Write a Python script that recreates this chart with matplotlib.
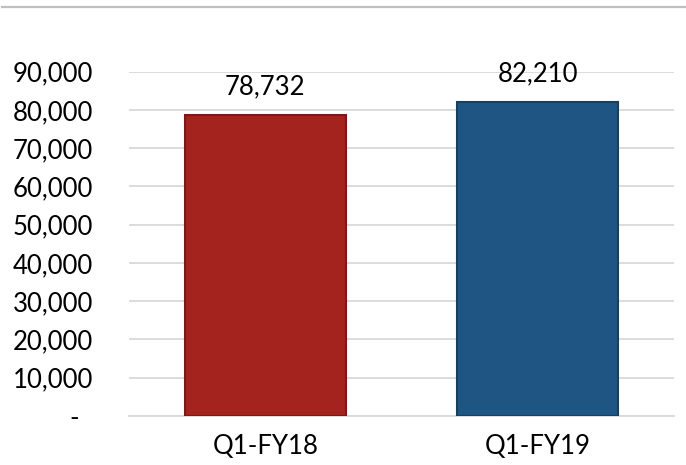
import matplotlib.pyplot as plt
from matplotlib.lines import Line2D

categories = ['Q1-FY18', 'Q1-FY19']
values = [78732, 82210]
bar_colors = ['#A5231E', '#1F5582']
edge_colors = ['#7a1915', '#163f60']
yticks = [0, 10000, 20000, 30000, 40000, 50000, 60000, 70000, 80000, 90000]

plt.rcParams['font.family'] = ['Lato', 'DejaVu Sans']
fs = 18.5

fig = plt.figure(figsize=(6.86, 4.65), dpi=100)
ax = fig.add_axes([129/686, 49/465, 545/686, 344.3/465])

x = range(len(categories))
ax.bar(x, values, width=0.59, color=bar_colors, edgecolor=edge_colors,
       linewidth=1.5, zorder=3)
for i, v in enumerate(values):
    ax.annotate(f'{v:,}', (i, v), xytext=(0, 14.4), textcoords='offset points',
                ha='center', va='baseline', fontsize=fs, color='#000000')

ax.set_xlim(-0.5, 1.5)
ax.set_ylim(0, 90000)
ax.set_yticks(yticks)
ax.set_yticklabels(['-  ' if t == 0 else f'{t:,}' for t in yticks], fontsize=fs)
ax.set_xticks(list(x))
ax.set_xticklabels(categories, fontsize=fs)
ax.tick_params(length=0)
ax.tick_params(axis='y', pad=26)
ax.tick_params(axis='x', pad=13)
ax.grid(axis='y', color='#d9d9d9', linewidth=1.3, zorder=0)
for s in ['top', 'right', 'left']:
    ax.spines[s].set_visible(False)
ax.spines['bottom'].set_color('#d9d9d9')
ax.spines['bottom'].set_linewidth(1.3)

fig.add_artist(Line2D([2/686, 1], [1 - 7.5/465, 1 - 7.5/465], color='#bfbfbf',
                      linewidth=1.6, transform=fig.transFigure))

fig.savefig('out.png', dpi=100)
